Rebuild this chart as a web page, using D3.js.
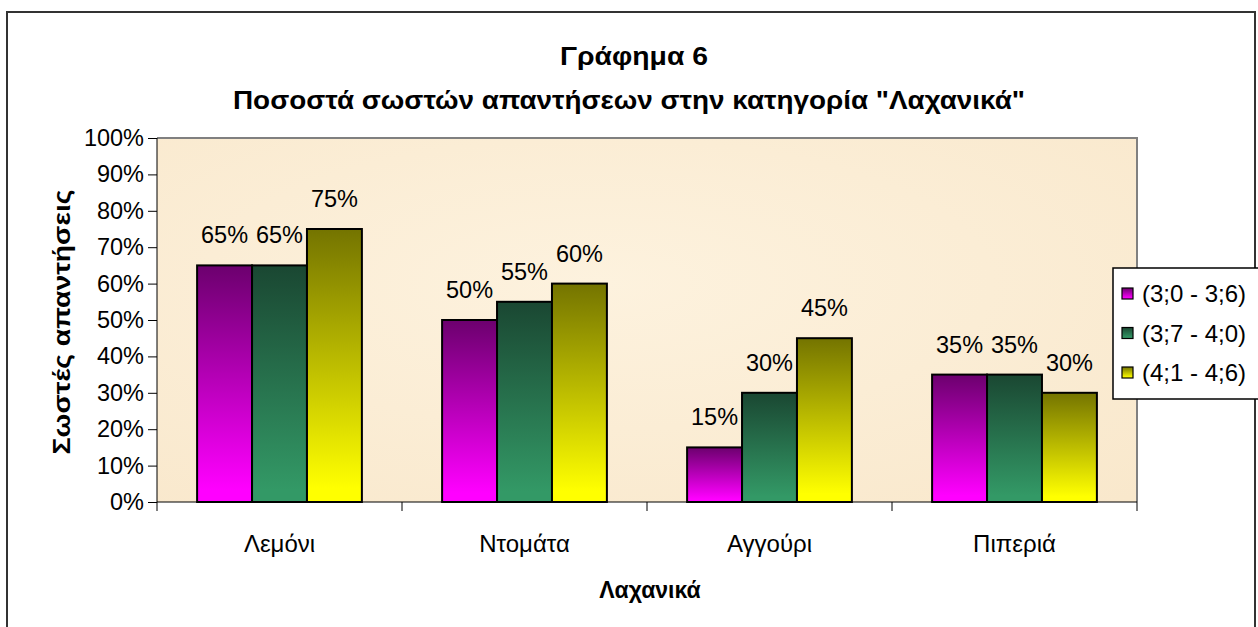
<!DOCTYPE html>
<html><head><meta charset="utf-8">
<script src="https://cdn.jsdelivr.net/npm/d3@7/dist/d3.min.js"></script>
<style>
html,body{margin:0;padding:0;background:#fff;}
text{font-family:"Liberation Sans",Arial,sans-serif;fill:#000;}
</style></head>
<body><svg id="c" width="1258" height="627"></svg>
<script>
const categories = ["Λεμόνι","Ντομάτα","Αγγούρι","Πιπεριά"];
const seriesNames = ["(3;0 - 3;6)","(3;7 - 4;0)","(4;1 - 4;6)"];
const s1 = [65,50,15,35];
const s2 = [65,55,30,35];
const s3 = [75,60,45,30];
const yTicks = [0,10,20,30,40,50,60,70,80,90,100];
const colorsTop = ["#6c006e","#1a4732","#747400"];
const colorsBottom = ["#ff00ff","#339966","#ffff00"];

const series = [s1,s2,s3];
const svg = d3.select("#c");
const defs = svg.append("defs");
colorsTop.forEach((c,i)=>{
  const g = defs.append("linearGradient").attr("id","g"+i).attr("x1",0).attr("y1",0).attr("x2",0).attr("y2",1);
  g.append("stop").attr("offset","0%").attr("stop-color",c);
  g.append("stop").attr("offset","95%").attr("stop-color",colorsBottom[i]);
  g.append("stop").attr("offset","100%").attr("stop-color",colorsBottom[i]);
});
const bg = defs.append("radialGradient").attr("id","bg").attr("cx","45%").attr("cy","40%").attr("r","80%");
bg.append("stop").attr("offset","0%").attr("stop-color","#fdf2de");
bg.append("stop").attr("offset","100%").attr("stop-color","#f9e8cc");

// outer border
svg.append("rect").attr("x",7).attr("y",12).attr("width",1248).attr("height",630)
  .attr("fill","#fff").attr("stroke","#333").attr("stroke-width",2);

const L=157,R=1137,T=138,B=502;
const x0 = d3.scaleBand().domain(categories).range([L,R]);
const x1 = d3.scaleBand().domain([0,1,2]).range([0,x0.bandwidth()]).paddingInner(0).paddingOuter(0.73);
const y = d3.scaleLinear().domain([0,100]).range([B,T]);

// plot area
svg.append("rect").attr("x",L).attr("y",T).attr("width",R-L).attr("height",B-T)
  .attr("fill","url(#bg)");
svg.append("path").attr("d",`M${L},${T}H${R}V${B}`).attr("fill","none").attr("stroke","#808080").attr("stroke-width",2);

// bars
categories.forEach((c,ci)=>{
  series.forEach((s,si)=>{
    svg.append("rect")
      .attr("x",x0(c)+x1(si)).attr("y",y(s[ci]))
      .attr("width",x1.bandwidth()).attr("height",y(0)-y(s[ci]))
      .attr("fill",`url(#g${si})`).attr("stroke","#000").attr("stroke-width",2);
  });
});
// labels
categories.forEach((c,ci)=>{
  series.forEach((s,si)=>{
    svg.append("text")
      .attr("x",x0(c)+x1(si)+x1.bandwidth()/2).attr("y",y(s[ci])-22)
      .attr("text-anchor","middle").attr("font-size",23.5)
      .text(s[ci]+"%");
  });
});

// y axis
const ya = svg.append("g").attr("transform",`translate(${L},0)`)
  .call(d3.axisLeft(y).tickValues(yTicks).tickFormat(d=>d+"%").tickSize(9).tickPadding(4));
ya.selectAll("text").attr("font-size",23.5).attr("font-family","Liberation Sans, Arial").attr("fill","#000");
ya.selectAll("line,path").attr("stroke","#000");
ya.select("path").attr("d",`M0,${T}V${B}`);

// x axis
const xa = svg.append("g").attr("transform",`translate(0,${B})`)
  .call(d3.axisBottom(x0).tickSize(0).tickPadding(33));
xa.selectAll("text").attr("font-size",24).attr("font-family","Liberation Sans, Arial").attr("fill","#000");
xa.select("path").attr("stroke","#000").attr("d",`M${L},0H${R}`);
const bounds = categories.map(c=>x0(c)).concat([R]);
xa.selectAll(".sep").data(bounds).enter().append("line").attr("class","sep")
  .attr("x1",d=>d).attr("x2",d=>d).attr("y1",0).attr("y2",9).attr("stroke","#000");

// titles
svg.append("text").attr("x",634).attr("y",65).attr("text-anchor","middle")
  .attr("font-size",25).attr("font-weight","bold").attr("textLength",148).attr("lengthAdjust","spacingAndGlyphs").text("Γράφημα 6");
svg.append("text").attr("x",629).attr("y",109).attr("text-anchor","middle")
  .attr("font-size",25).attr("font-weight","bold").attr("textLength",792).attr("lengthAdjust","spacingAndGlyphs")
  .text("Ποσοστά σωστών απαντήσεων στην κατηγορία \"Λαχανικά\"");
svg.append("text").attr("x",650).attr("y",598).attr("text-anchor","middle")
  .attr("font-size",23).attr("font-weight","bold").text("Λαχανικά");
svg.append("text").attr("transform","translate(70,322) rotate(-90)").attr("text-anchor","middle")
  .attr("font-size",23).attr("font-weight","bold").attr("textLength",265).attr("lengthAdjust","spacingAndGlyphs").text("Σωστές απαντήσεις");

// legend
const lg = svg.append("g");
lg.append("rect").attr("x",1113).attr("y",268).attr("width",160).attr("height",131)
  .attr("fill","#fff").attr("stroke","#000").attr("stroke-width",1.5);
seriesNames.forEach((n,i)=>{
  const cy = 293 + i*39.5;
  lg.append("rect").attr("x",1122).attr("y",cy-5).attr("width",11).attr("height",11)
    .attr("fill",`url(#g${i})`).attr("stroke","#000").attr("stroke-width",1.2);
  lg.append("text").attr("x",1142).attr("y",cy+9).attr("font-size",24).text(n);
});
</script></body></html>
